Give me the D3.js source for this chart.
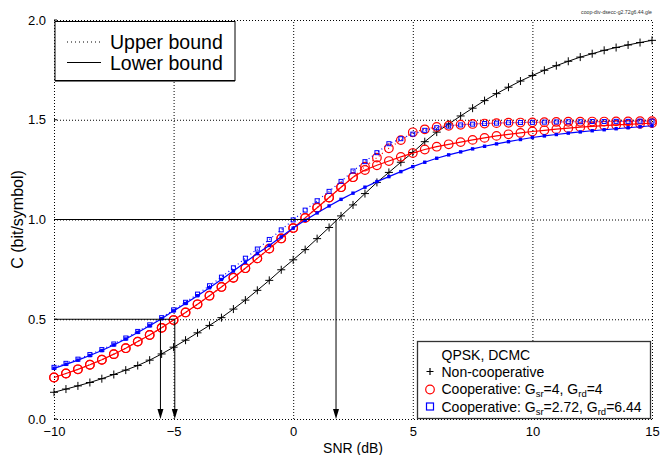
<!DOCTYPE html>
<html>
<head>
<meta charset="utf-8">
<script src="https://cdn.jsdelivr.net/npm/d3@7"></script>
<style>
  body { margin: 0; background: #fff; }
  svg { display: block; }
  text { font-family: "Liberation Sans", Arial, Helvetica, sans-serif; }
</style>
</head>
<body>
<svg width="667" height="455"></svg>
<script>
// SNR points (dB)
const snrDb = [-10, -9.5, -9, -8.5, -8, -7.5, -7, -6.5, -6, -5.5,
  -5, -4.5, -4, -3.5, -3, -2.5, -2, -1.5, -1, -0.5,
  0, 0.5, 1, 1.5, 2, 2.5, 3, 3.5, 4, 4.5,
  5, 5.5, 6, 6.5, 7, 7.5, 8, 8.5, 9, 9.5,
  10, 10.5, 11, 11.5, 12, 12.5, 13, 13.5, 14, 14.5, 15];

// non-cooperative
const nonCoop = [0.134, 0.150, 0.166, 0.183, 0.202, 0.223, 0.245, 0.268, 0.295, 0.326,
  0.360, 0.395, 0.432, 0.469, 0.508, 0.551, 0.596, 0.645, 0.695, 0.748,
  0.798, 0.849, 0.904, 0.960, 1.018, 1.073, 1.130, 1.186, 1.236, 1.287,
  1.336, 1.390, 1.438, 1.479, 1.519, 1.558, 1.596, 1.631, 1.663, 1.694,
  1.722, 1.748, 1.771, 1.793, 1.814, 1.831, 1.848, 1.862, 1.875, 1.887, 1.898];

// cooperative Gsr=4, Grd=4
const coop44Lower = [0.208, 0.228, 0.249, 0.272, 0.297, 0.325, 0.355, 0.388, 0.421, 0.457,
  0.496, 0.534, 0.575, 0.618, 0.662, 0.708, 0.756, 0.805, 0.854, 0.905,
  0.957, 1.008, 1.059, 1.110, 1.162, 1.212, 1.248, 1.272, 1.293, 1.314,
  1.333, 1.351, 1.365, 1.377, 1.388, 1.399, 1.409, 1.419, 1.427, 1.434,
  1.441, 1.447, 1.453, 1.458, 1.463, 1.467, 1.471, 1.474, 1.477, 1.480, 1.483];
const coop44Upper = [0.208, 0.228, 0.249, 0.272, 0.297, 0.325, 0.355, 0.388, 0.421, 0.457,
  0.496, 0.534, 0.575, 0.618, 0.662, 0.708, 0.756, 0.805, 0.854, 0.905,
  0.957, 1.008, 1.059, 1.110, 1.162, 1.212, 1.265, 1.310, 1.357, 1.398,
  1.437, 1.452, 1.464, 1.470, 1.475, 1.479, 1.481, 1.483, 1.485, 1.486,
  1.487, 1.488, 1.489, 1.490, 1.490, 1.491, 1.491, 1.492, 1.492, 1.493, 1.493];

// cooperative Gsr=2.72, Grd=6.44
const coop272Lower = [0.254, 0.274, 0.295, 0.318, 0.343, 0.371, 0.401, 0.434, 0.467, 0.503,
  0.542, 0.579, 0.618, 0.658, 0.699, 0.742, 0.786, 0.829, 0.870, 0.913,
  0.957, 0.996, 1.033, 1.068, 1.101, 1.132, 1.162, 1.190, 1.215, 1.240,
  1.265, 1.287, 1.307, 1.324, 1.339, 1.354, 1.367, 1.379, 1.390, 1.401,
  1.411, 1.419, 1.426, 1.433, 1.439, 1.445, 1.450, 1.455, 1.460, 1.465, 1.470];
const coop272Upper = [0.259, 0.279, 0.300, 0.323, 0.348, 0.376, 0.406, 0.439, 0.472, 0.508,
  0.547, 0.585, 0.626, 0.668, 0.711, 0.758, 0.806, 0.852, 0.900, 0.948,
  0.998, 1.047, 1.094, 1.141, 1.191, 1.243, 1.290, 1.335, 1.380, 1.405,
  1.428, 1.447, 1.460, 1.468, 1.474, 1.478, 1.481, 1.483, 1.485, 1.486,
  1.487, 1.488, 1.489, 1.490, 1.490, 1.491, 1.491, 1.492, 1.492, 1.493, 1.493];

const xTicks = [-10, -5, 0, 5, 10, 15];
const yTicks = [0, 0.5, 1.0, 1.5, 2.0];

// reference levels and where they hit the curves
const refLevels = [1.0, 0.5];
const refSnr = [[1.79], [-5.55, -4.95]];

const svg = d3.select("svg");
const x = d3.scaleLinear().domain([-10, 15]).range([54, 652]);
const y = d3.scaleLinear().domain([0, 2]).range([419, 20]);

// grid (dotted, also acts as frame)
svg.append("g")
  .attr("transform", `translate(0,${y(0)})`)
  .call(d3.axisBottom(x).tickValues(xTicks).tickSize(-(y(0) - y(2))).tickFormat(""))
  .call(g => g.select(".domain").remove())
  .call(g => g.selectAll("line").attr("stroke", "#000").attr("stroke-dasharray", "1,2"));
svg.append("g")
  .attr("transform", `translate(${x(-10)},0)`)
  .call(d3.axisLeft(y).tickValues(yTicks).tickSize(-(x(15) - x(-10))).tickFormat(""))
  .call(g => g.select(".domain").remove())
  .call(g => g.selectAll("line").attr("stroke", "#000").attr("stroke-dasharray", "1,2"));

// small y ticks
svg.append("g").selectAll("line")
  .data(yTicks)
  .join("line")
  .attr("x1", x(-10)).attr("x2", x(-10) + 3)
  .attr("y1", d => y(d)).attr("y2", d => y(d))
  .attr("stroke", "#000");

// tick labels
svg.append("g")
  .attr("transform", `translate(0,${y(0)})`)
  .call(d3.axisBottom(x).tickValues(xTicks).tickSize(0).tickPadding(8))
  .call(g => g.select(".domain").remove())
  .call(g => g.selectAll("text").attr("font-size", 13).attr("font-family", "Liberation Sans, Arial, sans-serif").attr("fill", "#000"));
svg.append("g")
  .attr("transform", `translate(${x(-10)},0)`)
  .call(d3.axisLeft(y).tickValues(yTicks).tickSize(0).tickPadding(8).tickFormat(d3.format(".1f")))
  .call(g => g.select(".domain").remove())
  .call(g => g.selectAll("text").attr("font-size", 13).attr("font-family", "Liberation Sans, Arial, sans-serif").attr("fill", "#000"));

// axis titles
svg.append("text")
  .attr("x", x(2.5)).attr("y", 453)
  .attr("text-anchor", "middle").attr("font-size", 14)
  .text("SNR (dB)");
svg.append("text")
  .attr("transform", `translate(23,${y(1)}) rotate(-90)`)
  .attr("text-anchor", "middle").attr("font-size", 16)
  .text("C (bit/symbol)");

const line = d3.line().x((d, i) => x(snrDb[i])).y(d => y(d));

function drawCurve(values, color, dashed, width) {
  svg.append("path")
    .datum(values)
    .attr("d", line)
    .attr("fill", "none")
    .attr("stroke", color)
    .attr("stroke-width", width)
    .attr("stroke-dasharray", dashed ? "1,3" : null);
}

// Non-cooperative
drawCurve(nonCoop, "#000", false, 1);
svg.append("g").selectAll("path")
  .data(nonCoop)
  .join("path")
  .attr("d", "M-4,0H4M0,-4V4")
  .attr("transform", (d, i) => `translate(${x(snrDb[i])},${y(d)})`)
  .attr("stroke", "#000")
  .attr("stroke-width", 1);

// Cooperative Gsr=4, Grd=4 (red)
drawCurve(coop44Upper, "#ff0000", true, 1.2);
drawCurve(coop44Lower, "#ff0000", false, 1.2);
[coop44Upper, coop44Lower].forEach(vals => {
  svg.append("g").selectAll("circle")
    .data(vals)
    .join("circle")
    .attr("cx", (d, i) => x(snrDb[i]))
    .attr("cy", d => y(d))
    .attr("r", 4.3)
    .attr("fill", "none")
    .attr("stroke", "#ff0000")
    .attr("stroke-width", 1.2);
});

// Cooperative Gsr=2.72, Grd=6.44 (blue)
drawCurve(coop272Upper, "#0000ff", true, 1.2);
drawCurve(coop272Lower, "#0000ff", false, 1.2);
svg.append("g").selectAll("rect")
  .data(coop272Upper)
  .join("rect")
  .attr("x", (d, i) => x(snrDb[i]) - 2)
  .attr("y", d => y(d) - 2)
  .attr("width", 4).attr("height", 4)
  .attr("fill", "none")
  .attr("stroke", "#0000ff")
  .attr("stroke-width", 1);
svg.append("g").selectAll("rect")
  .data(coop272Lower)
  .join("rect")
  .attr("x", (d, i) => x(snrDb[i]) - 1.7)
  .attr("y", d => y(d) - 1.7)
  .attr("width", 3.4).attr("height", 3.4)
  .attr("fill", "#0000ff");

// reference lines with arrows
refLevels.forEach((lvl, k) => {
  const xs = refSnr[k];
  svg.append("line")
    .attr("x1", x(-10)).attr("x2", x(d3.max(xs)))
    .attr("y1", y(lvl)).attr("y2", y(lvl))
    .attr("stroke", "#000").attr("stroke-width", 1);
  xs.forEach(s => {
    svg.append("line")
      .attr("x1", x(s)).attr("x2", x(s))
      .attr("y1", y(lvl)).attr("y2", y(0) - 8)
      .attr("stroke", "#000").attr("stroke-width", 1);
    svg.append("path")
      .attr("d", `M${x(s)},${y(0)}L${x(s) - 3},${y(0) - 10}L${x(s) + 3},${y(0) - 10}Z`)
      .attr("fill", "#000");
  });
});

// legend: bounds
const leg1 = svg.append("g");
leg1.append("rect")
  .attr("x", 55).attr("y", 21.5).attr("width", 180).attr("height", 59)
  .attr("fill", "#fff").attr("stroke", "#000").attr("stroke-width", 1);
leg1.append("line").attr("x1", 55).attr("x2", 235).attr("y1", 81.5).attr("y2", 81.5)
  .attr("stroke", "#777").attr("stroke-width", 1);
[["Upper bound", true, 42], ["Lower bound", false, 62.5]].forEach(([label, dashed, ly]) => {
  leg1.append("line")
    .attr("x1", 67).attr("x2", 101).attr("y1", ly).attr("y2", ly)
    .attr("stroke", "#000").attr("stroke-width", 1)
    .attr("stroke-dasharray", dashed ? "1,3" : null);
  leg1.append("text")
    .attr("x", 110).attr("y", ly + 7)
    .attr("font-size", 19.5)
    .text(label);
});

// legend: series
const leg2 = svg.append("g");
leg2.append("rect")
  .attr("x", 417.5).attr("y", 341.5).attr("width", 233).attr("height", 77)
  .attr("fill", "#fff").attr("stroke", "#333").attr("stroke-width", 1.3);
leg2.append("text")
  .attr("x", 441.5).attr("y", 359.5).attr("font-size", 14)
  .text("QPSK, DCMC");

leg2.append("path").attr("d", "M-3.5,0H3.5M0,-3.5V3.5")
  .attr("transform", "translate(430,371.5)")
  .attr("stroke", "#000").attr("stroke-width", 1.2);
leg2.append("text").attr("x", 441.5).attr("y", 376.5).attr("font-size", 14)
  .text("Non-cooperative");

leg2.append("circle").attr("cx", 430).attr("cy", 389.5).attr("r", 4.3)
  .attr("fill", "none").attr("stroke", "#ff0000").attr("stroke-width", 1.2);
const t2 = leg2.append("text").attr("x", 441.5).attr("y", 394).attr("font-size", 14);
t2.append("tspan").text("Cooperative: G");
t2.append("tspan").attr("font-size", 9.5).attr("dy", 3).text("sr");
t2.append("tspan").attr("dy", -3).text("=4, G");
t2.append("tspan").attr("font-size", 9.5).attr("dy", 3).text("rd");
t2.append("tspan").attr("dy", -3).text("=4");

leg2.append("rect").attr("x", 426.5).attr("y", 403).attr("width", 7).attr("height", 7)
  .attr("fill", "none").attr("stroke", "#0000ff").attr("stroke-width", 1.2);
const t3 = leg2.append("text").attr("x", 441.5).attr("y", 411.5).attr("font-size", 14);
t3.append("tspan").text("Cooperative: G");
t3.append("tspan").attr("font-size", 9.5).attr("dy", 3).text("sr");
t3.append("tspan").attr("dy", -3).text("=2.72, G");
t3.append("tspan").attr("font-size", 9.5).attr("dy", 3).text("rd");
t3.append("tspan").attr("dy", -3).text("=6.44");

// file tag
svg.append("text")
  .attr("x", 652).attr("y", 14)
  .attr("text-anchor", "end").attr("font-size", 5.2).attr("fill", "#333")
  .text("coop-div-dsecc-g2.72g6.44.gle");
</script>
</body>
</html>
